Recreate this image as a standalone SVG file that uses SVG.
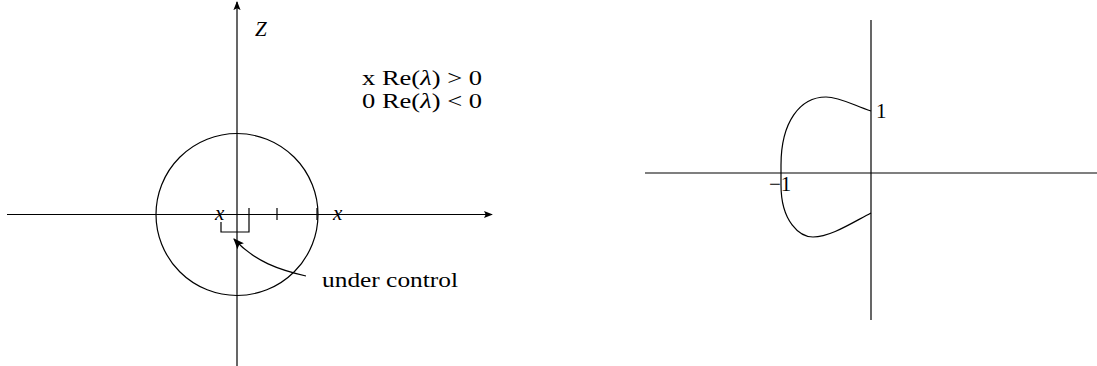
<svg xmlns="http://www.w3.org/2000/svg" width="1097" height="366" viewBox="0 0 1097 366">
<defs>
<style>
.ln{fill:none;stroke:#000;stroke-width:1.2}
.t{font-family:"Liberation Serif","DejaVu Serif",serif;font-size:21px;fill:#000}
.it{font-style:italic}
</style>
<marker id="ah" viewBox="0 0 10 10" refX="9" refY="5" markerWidth="9" markerHeight="9" markerUnits="userSpaceOnUse" orient="auto">
<path d="M0,1 L10,5 L0,9 L2,5 Z" fill="#000"/>
</marker>
<marker id="ah2" viewBox="0 0 10 10" refX="9" refY="5" markerWidth="11" markerHeight="11" markerUnits="userSpaceOnUse" orient="auto">
<path d="M0,1 L10,5 L0,9 L2,5 Z" fill="#000"/>
</marker>
</defs>
<g id="left-plot">
<line class="ln" x1="7" y1="214.5" x2="492" y2="214.5" marker-end="url(#ah)"/>
<line class="ln" x1="237" y1="366" x2="237" y2="2" marker-end="url(#ah)"/>
<circle class="ln" cx="237" cy="214.5" r="81"/>
<line class="ln" x1="277" y1="208" x2="277" y2="220"/>
<line class="ln" x1="317" y1="208" x2="317" y2="220"/>
<path class="ln" d="M249,208 L249,232 L221,232 L221,222"/>
<text class="t it" x="215" y="220">x</text>
<text class="t it" x="333" y="220">x</text>
<text class="t it" x="255" y="36">Z</text>
<text class="t" x="362" y="85" textLength="120" lengthAdjust="spacingAndGlyphs">x Re(<tspan class="it">λ</tspan>) &gt; 0</text>
<text class="t" x="362" y="108" textLength="120" lengthAdjust="spacingAndGlyphs">0 Re(<tspan class="it">λ</tspan>) &lt; 0</text>
<text class="t" x="322" y="287" textLength="136" lengthAdjust="spacingAndGlyphs">under control</text>
</g>
<g id="connectors">
<path class="ln" d="M306,276 C280,270 255,262 234,239" marker-end="url(#ah2)"/>
</g>
<g id="right-plot">
<line class="ln" x1="645" y1="173" x2="1097" y2="173"/>
<line class="ln" x1="871" y1="20" x2="871" y2="320"/>
<path class="ln" d="M871,111 C855,106 840,97 826,97 C800,97 781,122 781,165 L781,185 C781,222 800,237 813,237 C830,237 850,224 871,213"/>
<text class="t" x="876" y="118">1</text>
<text class="t" x="769" y="191">−1</text>
</g>
</svg>
